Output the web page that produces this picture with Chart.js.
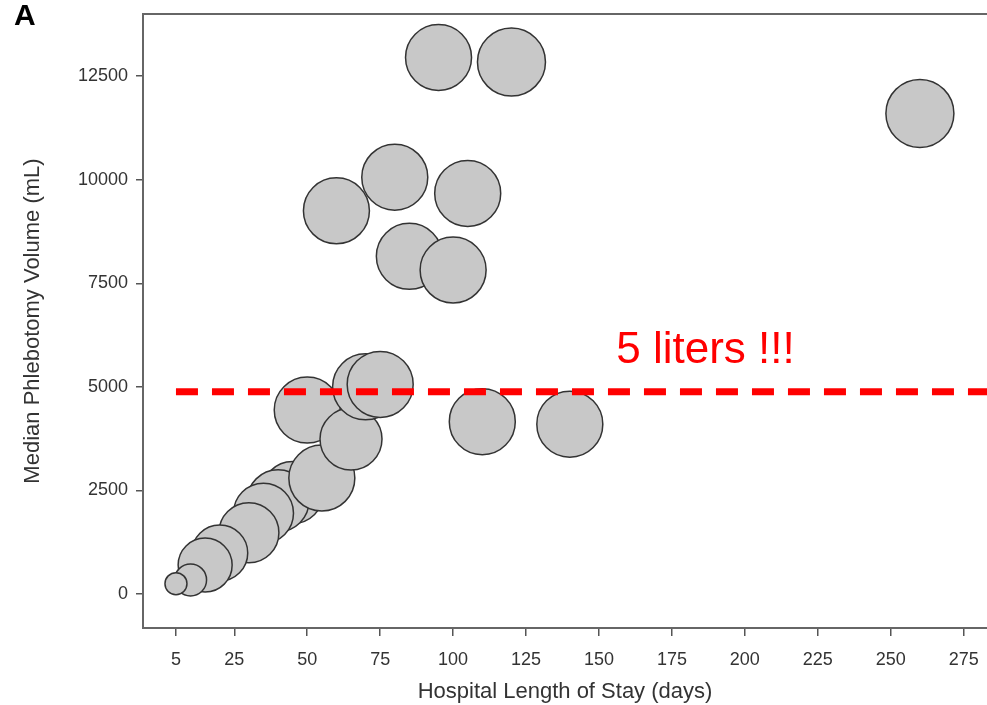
<!DOCTYPE html>
<html>
<head>
<meta charset="utf-8">
<script src="https://cdn.jsdelivr.net/npm/chart.js@4/dist/chart.umd.min.js"></script>
<style>
  html, body { margin: 0; padding: 0; background: #fff; }
  #wrap { position: relative; width: 987px; height: 705px; }
  #panel { position: absolute; left: 14px; top: -2px; font: bold 30px 'Liberation Sans', Arial, sans-serif; color: #000; }
</style>
</head>
<body>
<div id="wrap">
  <canvas id="chart" width="987" height="705"></canvas>
  <div id="panel">A</div>
</div>
<script>
'use strict';

// length of stay (days) for each bubble, drawing order back -> front
var stayDays = [45, 40, 35, 30, 20, 15, 10, 5, 55, 50, 65, 70, 75, 60, 80, 85, 100, 105, 95, 120, 110, 140, 260];
// median phlebotomy volume (mL)
var volumeMl = [2450, 2250, 1950, 1480, 990, 700, 340, 250, 2800, 4440, 3740, 5000, 5060, 9250, 10060, 8150, 7820, 9670, 12950, 12840, 4160, 4100, 11600];
// bubble size
var sizes = [31, 31, 30, 30, 28, 27, 16, 11, 33, 33, 31, 33, 33, 33, 33, 33, 33, 33, 33, 34, 33, 33, 34];

var xTicks = [5, 25, 50, 75, 100, 125, 150, 175, 200, 225, 250, 275];
var yTicks = [0, 2500, 5000, 7500, 10000, 12500];

// the 5 liter reference line
var refLineX = [5, 283];
var refLineY = 4880;
var refLabel = '5 liters !!!';
var refLabelX = 186.5;
var refLabelY = 5575;

var fontFam = "'Liberation Sans', Arial, sans-serif";

var bubbles = [];
for (var i = 0; i < stayDays.length; i++) {
    bubbles.push({ x: stayDays[i], y: volumeMl[i], r: sizes[i] });
}

// top frame line + red label
var extras = {
    id: 'extras',
    afterDatasetsDraw: function(chart) {
        var ctx = chart.ctx;
        var a = chart.chartArea;
        ctx.save();
        ctx.strokeStyle = '#666';
        ctx.lineWidth = 2;
        ctx.beginPath();
        ctx.moveTo(a.left - 1, a.top);
        ctx.lineTo(a.right, a.top);
        ctx.stroke();

        ctx.fillStyle = '#ff0000';
        ctx.font = '44px ' + fontFam;
        ctx.textAlign = 'center';
        ctx.textBaseline = 'alphabetic';
        ctx.fillText(refLabel, chart.scales.x.getPixelForValue(refLabelX), chart.scales.y.getPixelForValue(refLabelY));
        ctx.restore();
    }
};

function plain(v) { return String(v); }

var ctx = document.getElementById('chart').getContext('2d');
var myChart = new Chart(ctx, {
    type: 'bubble',
    data: {
        datasets: [{
            type: 'line',
            data: refLineX.map(function(v) { return { x: v, y: refLineY }; }),
            borderColor: '#ff0000',
            borderWidth: 7,
            borderDash: [22, 14],
            pointRadius: 0,
            fill: false,
            order: 0
        }, {
            data: bubbles,
            backgroundColor: '#c8c8c8',
            borderColor: '#333',
            borderWidth: 1.5,
            hoverRadius: 0,
            order: 1
        }]
    },
    options: {
        responsive: false,
        animation: false,
        events: [],
        layout: { autoPadding: false, padding: { top: 14, right: 0, left: 0, bottom: 0 } },
        plugins: { legend: { display: false }, tooltip: { enabled: false } },
        scales: {
            x: {
                type: 'linear',
                min: -6.3,
                max: 283,
                afterBuildTicks: function(axis) {
                    axis.ticks = xTicks.map(function(v) { return { value: v }; });
                },
                afterFit: function(axis) {
                    axis.height = 77;
                    axis.paddingLeft = 0;
                    axis.paddingRight = 0;
                },
                grid: { display: true, drawOnChartArea: false, drawTicks: true, tickLength: 8, color: '#555', lineWidth: 1.5 },
                border: { display: true, color: '#666', width: 2 },
                ticks: { color: '#333', font: { family: fontFam, size: 18 }, padding: 13, maxRotation: 0, autoSkip: false, callback: plain },
                title: { display: true, text: 'Hospital Length of Stay (days)', color: '#333', font: { family: fontFam, size: 22 }, padding: { top: 0, bottom: 0 } }
            },
            y: {
                type: 'linear',
                min: -820,
                max: 14000,
                afterBuildTicks: function(axis) {
                    axis.ticks = yTicks.map(function(v) { return { value: v }; });
                },
                afterFit: function(axis) {
                    axis.width = 143;
                    axis.paddingTop = 0;
                    axis.paddingBottom = 0;
                },
                grid: { display: true, drawOnChartArea: false, drawTicks: true, tickLength: 7, color: '#555', lineWidth: 1.5 },
                border: { display: true, color: '#666', width: 2 },
                ticks: { color: '#333', font: { family: fontFam, size: 18 }, padding: 8, callback: plain },
                title: { display: true, text: 'Median Phlebotomy Volume (mL)', color: '#333', font: { family: fontFam, size: 22 }, padding: { top: 20, bottom: 0 } }
            }
        }
    },
    plugins: [extras]
});
</script>
</body>
</html>
